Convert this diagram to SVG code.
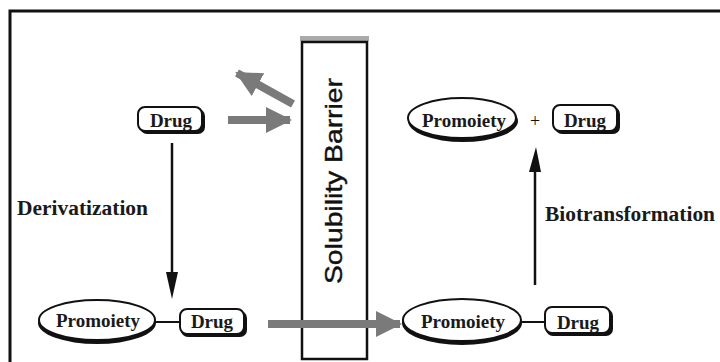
<svg xmlns="http://www.w3.org/2000/svg" width="720" height="362" viewBox="0 0 720 362">
<defs>
<style>
.lbl{font-family:"Liberation Serif","Times New Roman",serif;font-weight:bold;fill:#1a1a1a;}
.node{font-size:19px;text-anchor:middle;}
.box{fill:#fff;stroke:#111;stroke-width:2;}
.sh{fill:#111;}
.gry{stroke:#7a7a7a;stroke-width:8;fill:none;}
</style>
<marker id="gh" markerWidth="26" markerHeight="26" refX="24" refY="13" orient="auto" markerUnits="userSpaceOnUse">
<path d="M0,0 L26,13 L0,26 Z" fill="#7a7a7a"/>
</marker>
</defs>
<rect width="720" height="362" fill="#fff"/>
<path d="M10,362 V11 H720" fill="none" stroke="#111" stroke-width="3"/>

<g id="barrier">
<rect x="300" y="36" width="69" height="5" fill="#aaa"/>
<rect x="302" y="42" width="65" height="317" fill="#fff" stroke="#111" stroke-width="2.5"/>
<text x="0" y="0" transform="translate(342,181) rotate(-90)" font-family="Liberation Sans, Arial, sans-serif" font-size="24" text-anchor="middle" fill="#111" stroke="#111" stroke-width="0.4" textLength="206" lengthAdjust="spacingAndGlyphs">Solubility Barrier</text>
</g>

<g id="connectors">
<line class="gry" x1="228" y1="120" x2="290" y2="120" marker-end="url(#gh)"/>
<line class="gry" x1="293" y1="104" x2="237" y2="73" marker-end="url(#gh)"/>
<line class="gry" x1="268" y1="324" x2="400" y2="324" marker-end="url(#gh)"/>
<line x1="172" y1="143" x2="172" y2="272" stroke="#111" stroke-width="2.5"/>
<path d="M166,272 L178,272 L172,299 Z" fill="#111"/>
<line x1="535" y1="285" x2="535" y2="170" stroke="#111" stroke-width="2.5"/>
<path d="M529,172 L541,172 L536,147 Z" fill="#111"/>
<line x1="155" y1="322" x2="181" y2="322" stroke="#111" stroke-width="2"/>
<line x1="522" y1="322" x2="546" y2="322" stroke="#111" stroke-width="2"/>
</g>

<g id="drug-top">
<rect class="sh" x="140" y="109" width="65" height="25" rx="7"/>
<rect class="box" x="138" y="107" width="64" height="24" rx="7"/>
<text class="lbl node" x="171" y="127">Drug</text>
</g>

<g id="promoiety-bl">
<ellipse class="sh" cx="97" cy="323" rx="59" ry="21"/>
<ellipse class="box" cx="97" cy="320" rx="58" ry="20"/>
<text class="lbl node" x="98" y="327">Promoiety</text>
</g>

<g id="drug-bl">
<rect class="sh" x="181" y="311" width="66" height="26" rx="7"/>
<rect class="box" x="180" y="309" width="64" height="25" rx="7"/>
<text class="lbl node" x="212" y="328">Drug</text>
</g>

<g id="promoiety-br">
<ellipse class="sh" cx="462" cy="323" rx="60" ry="22"/>
<ellipse class="box" cx="462" cy="320" rx="59" ry="21"/>
<text class="lbl node" x="463" y="328">Promoiety</text>
</g>

<g id="drug-br">
<rect class="sh" x="546" y="309" width="67" height="27" rx="7"/>
<rect class="box" x="545" y="307" width="65" height="26" rx="7"/>
<text class="lbl node" x="578" y="329">Drug</text>
</g>

<g id="promoiety-tr">
<ellipse class="sh" cx="463" cy="121" rx="55" ry="21"/>
<ellipse class="box" cx="462" cy="118" rx="54" ry="20"/>
<text class="lbl node" x="464" y="127">Promoiety</text>
</g>

<g id="plus">
<text x="535" y="127" font-family="Liberation Serif, serif" font-size="18" text-anchor="middle" fill="#111">+</text>
</g>

<g id="drug-tr">
<rect class="sh" x="555" y="107" width="65" height="27" rx="7"/>
<rect class="box" x="553" y="105" width="64" height="26" rx="7"/>
<text class="lbl node" x="585" y="127">Drug</text>
</g>

<g id="labels">
<text class="lbl" x="17" y="215" font-size="20" textLength="131" lengthAdjust="spacingAndGlyphs">Derivatization</text>
<text class="lbl" x="545" y="221" font-size="20" textLength="170" lengthAdjust="spacingAndGlyphs">Biotransformation</text>
</g>
</svg>
